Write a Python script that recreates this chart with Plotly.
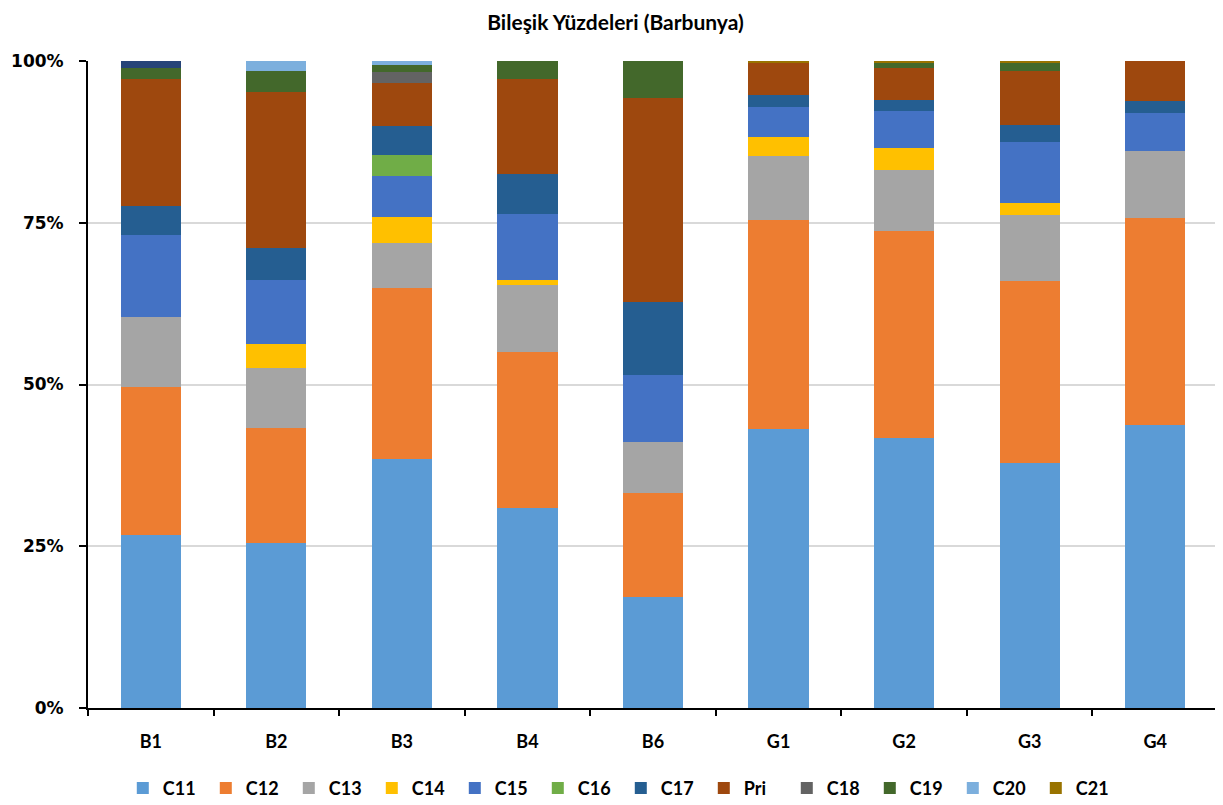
import plotly.graph_objects as go

categories = ["B1", "B2", "B3", "B4", "B6", "G1", "G2", "G3", "G4"]

C11 = [26.74, 25.48, 38.49, 30.86, 17.10, 43.12, 41.78, 37.82, 43.74]
C12 = [22.92, 17.84, 26.47, 24.21, 16.13, 32.31, 31.94, 28.02, 31.95]
C13 = [10.73, 9.28, 6.86, 10.31, 7.93, 9.89, 9.43, 10.22, 10.34]
C14 = [0.0, 3.61, 4.07, 0.77, 0.0, 2.98, 3.45, 1.91, 0.0]
C15 = [12.72, 9.94, 6.34, 10.20, 10.31, 4.54, 5.67, 9.32, 5.92]
C16 = [0.0, 0.0, 3.20, 0.0, 0.0, 0.0, 0.0, 0.0, 0.0]
C17 = [4.48, 5.02, 4.52, 6.23, 11.33, 1.86, 1.73, 2.58, 1.81]
Pri = [19.63, 24.09, 6.65, 14.64, 31.53, 5.10, 4.87, 8.39, 6.24]
C18 = [0.0, 0.0, 1.75, 0.0, 0.0, 0.0, 0.0, 0.0, 0.0]
C19 = [1.65, 3.19, 1.03, 2.78, 5.67, 0.0, 0.77, 1.35, 0.0]
C20 = [0.0, 1.55, 0.62, 0.0, 0.0, 0.0, 0.0, 0.0, 0.0]
C21 = [0.0, 0.0, 0.0, 0.0, 0.0, 0.20, 0.36, 0.20, 0.0]
Other = [1.13, 0.0, 0.0, 0.0, 0.0, 0.0, 0.0, 0.0, 0.0]

series = [
    ("C11", C11, "#5B9BD5", True),
    ("C12", C12, "#ED7D31", True),
    ("C13", C13, "#A5A5A5", True),
    ("C14", C14, "#FFC000", True),
    ("C15", C15, "#4472C4", True),
    ("C16", C16, "#70AD47", True),
    ("C17", C17, "#255E91", True),
    ("Pri", Pri, "#9E480E", True),
    ("C18", C18, "#636363", True),
    ("C19", C19, "#43682B", True),
    ("C20", C20, "#7CAFDD", True),
    ("C21", C21, "#997300", True),
    ("", Other, "#264478", False),
]

fig = go.Figure()
for name, vals, color, show in series:
    fig.add_trace(go.Bar(
        x=categories, y=vals, name="<b>" + name + "</b>" if name else name,
        marker_color=color, marker_line_width=0, showlegend=show,
    ))

font_main = "Lato, Calibri, 'Open Sans', sans-serif"

fig.update_layout(
    barmode="stack",
    barnorm="percent",
    bargap=0.52,
    width=1215, height=797,
    margin=dict(l=80, r=5, t=53, b=97, autoexpand=False),
    paper_bgcolor="white", plot_bgcolor="white",
    title=dict(text="<b>Bileşik Yüzdeleri (Barbunya)</b>", x=0.5, xanchor="center",
               y=0.981, yanchor="middle",
               font=dict(family=font_main, size=21, color="#000000")),
    font=dict(family=font_main, color="#000000"),
    legend=dict(orientation="h", x=0.4715, xanchor="center", y=-0.124, yanchor="middle",
                font=dict(family=font_main, size=18, color="#000000"),
                traceorder="normal", entrywidth=38, itemwidth=30),
    xaxis=dict(showline=True, linecolor="#000000", linewidth=2,
               ticks="outside", tickson="boundaries", ticklen=6, tickcolor="#000000",
               tickwidth=1.5, ticklabelstandoff=16,
               tickfont=dict(family=font_main, size=18, color="#000000"),
               tickprefix="<b>", ticksuffix="</b>"),
    yaxis=dict(range=[0, 100], tickvals=[0, 25, 50, 75, 100],
               ticktext=["<b>0%</b>", "<b>25%</b>", "<b>50%</b>", "<b>75%</b>", "<b>100%</b>"],
               showline=True, linecolor="#000000", linewidth=2,
               ticks="outside", ticklen=7, tickcolor="#000000", tickwidth=1.5,
               ticklabelstandoff=12,
               showgrid=True, gridcolor="#D9D9D9", gridwidth=1.5,
               tickfont=dict(family="DejaVu Sans", size=17, color="#000000"),
               zeroline=False),
)

fig.write_html("out.html")
